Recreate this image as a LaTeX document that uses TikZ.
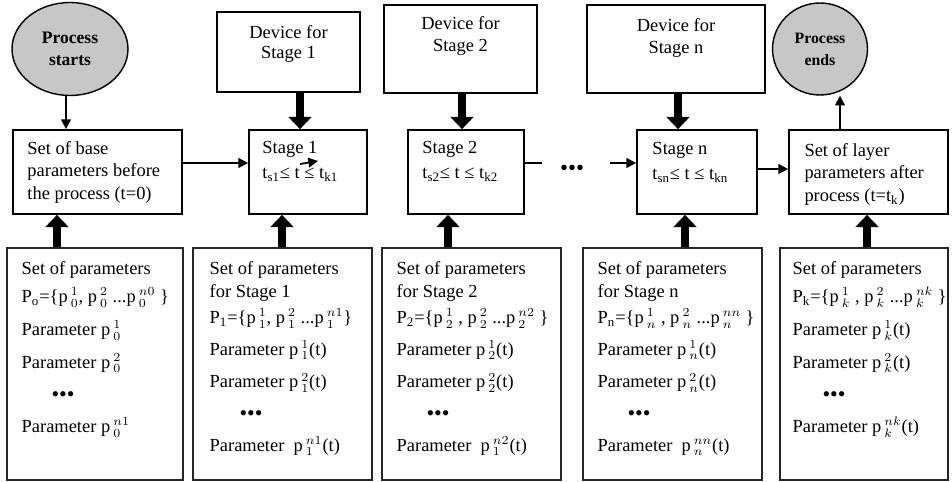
\documentclass[tikz,border=0pt]{standalone}
\usepackage{fontspec}
\setmainfont{Liberation Serif}
\usetikzlibrary{shapes.geometric,arrows.meta}

\begin{document}
\begin{tikzpicture}[x=0.02cm, y=-0.02cm,
  font=\fontsize{10.5}{12.75}\selectfont,
  box/.style={draw, line width=1pt, inner sep=0pt, minimum height=1.68cm},
  devbox/.style={draw, line width=1pt, inner sep=0pt},
  setbox/.style={draw=black!85, line width=0.8pt, inner sep=0pt, minimum height=4.64cm},
  txt/.style={inner sep=0pt, align=left, anchor=north west},
  oval/.style={draw, ellipse, line width=0.8pt, fill=black!22, inner sep=0pt, align=center},
  link/.style={line width=1pt, -{Triangle[width=5.5pt,length=5.5pt]}},
  fat/.style={line width=5pt, -{Triangle[width=13pt,length=7pt]}},
  bigdots/.style={inner sep=0pt, font=\fontsize{13}{13}\selectfont}]
\useasboundingbox (0,0) rectangle (952,482);

% start and end of the process
\node[oval, minimum width=2.32cm, minimum height=1.86cm, font=\fontsize{10}{12.5}\selectfont\bfseries] (start) at (70,49) {Process\\starts};
\node[oval, minimum width=1.9cm, minimum height=1.84cm, font=\fontsize{9}{12.5}\selectfont\bfseries] (end) at (820,49) {Process\\ends};

% devices
\node[devbox, minimum width=2.86cm, minimum height=1.6cm] (dev1) at (288.5,52) {};
\node[devbox, minimum width=3.06cm, minimum height=1.76cm] (dev2) at (460.5,49) {};
\node[devbox, minimum width=3.56cm, minimum height=1.76cm] (devn) at (676,49) {};
\node[inner sep=0pt, align=center, anchor=north, font=\fontsize{10.5}{11.5}\selectfont] (dev1-t) at ([yshift=-0.28cm]dev1.north) {Device for\\Stage 1};
\node[inner sep=0pt, align=center, anchor=north] (dev2-t) at ([yshift=-0.24cm]dev2.north) {Device for\\Stage 2};
\node[inner sep=0pt, align=center, anchor=north] (devn-t) at ([yshift=-0.28cm]devn.north) {Device for\\Stage n};

% middle row
\node[box, minimum width=3.38cm] (base) at (97.5,172) {};
\node[box, minimum width=2.36cm] (stage1) at (308,172) {};
\node[box, minimum width=2.32cm] (stage2) at (466,172) {};
\node[box, minimum width=2.40cm] (stagen) at (697,172) {};
\node[box, minimum width=3.18cm] (after) at (868.5,172) {};
\node[txt] (base-t) at ([xshift=0.3cm, yshift=-0.24cm]base.north west) {Set of base\\parameters before\\the process (t=0)};
\node[txt] (stage1-t) at ([xshift=0.28cm, yshift=-0.24cm]stage1.north west) {Stage 1\\[1.5pt]t\textsubscript{s1}≤ t ≤ t\textsubscript{k1}};
\node[txt] (stage2-t) at ([xshift=0.3cm, yshift=-0.24cm]stage2.north west) {Stage 2\\[1.5pt]t\textsubscript{s2}≤ t ≤ t\textsubscript{k2}};
\node[txt] (stagen-t) at ([xshift=0.32cm, yshift=-0.26cm]stagen.north west) {Stage n\\[1.5pt]t\textsubscript{sn}≤ t ≤ t\textsubscript{kn}};
\node[txt] (after-t) at ([xshift=0.32cm, yshift=-0.28cm]after.north west) {Set of layer\\parameters after\\process (t=t\textsubscript{k})};
\node[bigdots] (gap) at (572,170) {•••};

% parameter sets
\node[setbox, minimum width=3.52cm] (low0) at (95,364) {};
\node[setbox, minimum width=3.58cm] (low1) at (282.5,364) {};
\node[setbox, minimum width=3.58cm] (low2) at (471.5,364) {};
\node[setbox, minimum width=3.58cm] (lown) at (672.5,364) {};
\node[setbox, minimum width=3.36cm] (lowk) at (864,364) {};
\node[txt] (low0-t) at ([xshift=0.3cm, yshift=-0.28cm]low0.north west) {Set of parameters\\[3pt]
  P\textsubscript{o}=\{p\,$^{1}_{0}$, p\,$^{2}_{0}$ ...p\,$^{n0}_{0}$ \}\\[6pt]
  Parameter p\,$^{1}_{0}$\\[6pt]
  Parameter p\,$^{2}_{0}$\\[6pt]
  \hspace*{17pt}{\fontsize{12.5}{12.75}\selectfont •••}\\[5pt]
  Parameter p\,$^{n1}_{0}$};
\node[txt] (low1-t) at ([xshift=0.34cm, yshift=-0.28cm]low1.north west) {Set of parameters\\
  for Stage 1\\[2.5pt]
  P\textsubscript{1}=\{p\,$^{1}_{1}$, p\,$^{2}_{1}$ ...p\,$^{n1}_{1}$\}\\[5pt]
  Parameter p\,$^{1}_{1}$(t)\\[6pt]
  Parameter p\,$^{2}_{1}$(t)\\[6pt]
  \hspace*{17pt}{\fontsize{12.5}{12.75}\selectfont •••}\\[4.5pt]
  Parameter\ \ p\,$^{n1}_{1}$(t)};
\node[txt] (low2-t) at ([xshift=0.3cm, yshift=-0.28cm]low2.north west) {Set of parameters\\
  for Stage 2\\[2.5pt]
  P\textsubscript{2}=\{p\,$^{1}_{2}$ , p\,$^{2}_{2}$ ...p\,$^{n2}_{2}$ \}\\[5pt]
  Parameter p\,$^{1}_{2}$(t)\\[6pt]
  Parameter p\,$^{2}_{2}$(t)\\[6pt]
  \hspace*{17pt}{\fontsize{12.5}{12.75}\selectfont •••}\\[4.5pt]
  Parameter\ \ p\,$^{n2}_{1}$(t)};
\node[txt] (lown-t) at ([xshift=0.3cm, yshift=-0.28cm]lown.north west) {Set of parameters\\
  for Stage n\\[2.5pt]
  P\textsubscript{n}=\{p\,$^{1}_{n}$ , p\,$^{2}_{n}$ ...p\,$^{nn}_{n}$ \}\\[5pt]
  Parameter p\,$^{1}_{n}$(t)\\[6pt]
  Parameter p\,$^{2}_{n}$(t)\\[6pt]
  \hspace*{17pt}{\fontsize{12.5}{12.75}\selectfont •••}\\[4.5pt]
  Parameter\ \ p\,$^{nn}_{n}$(t)};
\node[txt] (lowk-t) at ([xshift=0.26cm, yshift=-0.28cm]lowk.north west) {Set of parameters\\[3pt]
  P\textsubscript{k}=\{p\,$^{1}_{k}$ , p\,$^{2}_{k}$ ...p\,$^{nk}_{k}$ \}\\[6pt]
  Parameter p\,$^{1}_{k}$(t)\\[6pt]
  Parameter p\,$^{2}_{k}$(t)\\[6pt]
  \hspace*{17pt}{\fontsize{12.5}{12.75}\selectfont •••}\\[5pt]
  Parameter p\,$^{nk}_{k}$(t)};

% thin connectors
\coordinate (c0) at (66,0);
\coordinate (c5) at (840,0);
\coordinate (r1) at (0,163);
\coordinate (r2) at (0,169);
\coordinate (gl) at (542,163);
\coordinate (gr) at (610,163);
\coordinate (s1a) at (300,164);
\coordinate (s1b) at (318,161);
\draw[link] (start.south -| c0) -- (base.north -| c0);
\draw[link] (base.east |- r1) -- (stage1.west |- r1);
\draw[line width=1pt] (stage2.east |- gl) -- (gl);
\draw[link] (gr) -- (stagen.west |- gr);
\draw[link] (stagen.east |- r2) -- (after.west |- r2);
\draw[link] (after.north -| c5) -- (end.south -| c5);
\draw[link] (s1a) -- (s1b);

% thick arrows
\foreach \a/\b/\x in {dev1/stage1/300, dev2/stage2/462, devn/stagen/678}{
  \coordinate (u) at (\x,0);
  \draw[fat] (\a.south -| u) -- (\b.north -| u);
}
\foreach \a/\b/\x in {low0/base/57, low1/stage1/282, low2/stage2/448, lown/stagen/685, lowk/after/867}{
  \coordinate (u) at (\x,0);
  \draw[fat] (\a.north -| u) -- (\b.south -| u);
}
\end{tikzpicture}
\end{document}
